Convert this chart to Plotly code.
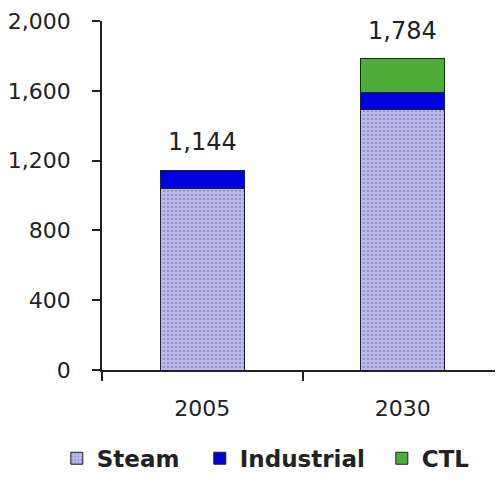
import plotly.graph_objects as go

years = ["2005", "2030"]
steam = [1040, 1492]
industrial = [104, 100]
ctl = [0, 192]
totals = [1144, 1784]

y_ticks = [0, 400, 800, 1200, 1600, 2000]

FONT = "DejaVu Sans"
INK = "#222222"

fig = go.Figure()

fig.add_trace(go.Bar(
    x=years, y=steam, name="Steam", width=0.42, legendwidth=98,
    marker=dict(
        color="#b8b8e8",
        line=dict(color=INK, width=1),
        pattern=dict(shape=".", fgcolor="#6c6cae", bgcolor="#bcbcec", size=4, solidity=0.3),
    ),
))
fig.add_trace(go.Bar(
    x=years, y=industrial, name="Industrial", width=0.42, legendwidth=137,
    marker=dict(color="#0000e0", line=dict(color=INK, width=1)),
))
fig.add_trace(go.Bar(
    x=years, y=ctl, name="CTL", width=0.42,
    marker=dict(color="#4fae3a", line=dict(color=INK, width=1)),
))

# totals above the bars
for i, tot in enumerate(totals):
    fig.add_annotation(
        x=i, y=tot, text=f"{tot:,}", showarrow=False,
        yanchor="bottom", yshift=12,
        font=dict(family=FONT, size=24, color=INK),
    )

# page has an 8px body margin, so the figure is 16px smaller than the window
fig.update_layout(
    barmode="stack",
    width=487, height=472,
    margin=dict(l=91, r=0, t=13, b=96),
    plot_bgcolor="white",
    paper_bgcolor="white",
    font=dict(family=FONT, color=INK),
    legend=dict(
        orientation="h", x=-0.115, xanchor="left", y=-0.253, yanchor="middle",
        font=dict(family=FONT, size=23, weight="bold"),
        traceorder="normal",
    ),
)

fig.update_xaxes(
    type="category",
    showline=True, linecolor=INK, linewidth=1.5,
    ticks="outside", tickson="boundaries", ticklen=9, tickcolor=INK, tickwidth=1.5,
    tickfont=dict(family=FONT, size=22, color=INK),
    ticklabelstandoff=18,
    range=[-0.5, 1.46],
)
fig.update_yaxes(
    range=[0, 2000], tickvals=y_ticks, tickformat=",",
    showline=True, linecolor=INK, linewidth=1.5,
    ticks="outside", ticklen=8, tickcolor=INK, tickwidth=1.5,
    showgrid=False, zeroline=False,
    tickfont=dict(family=FONT, size=22, color=INK),
    ticklabelstandoff=17,
)

fig.write_html("out.html")
